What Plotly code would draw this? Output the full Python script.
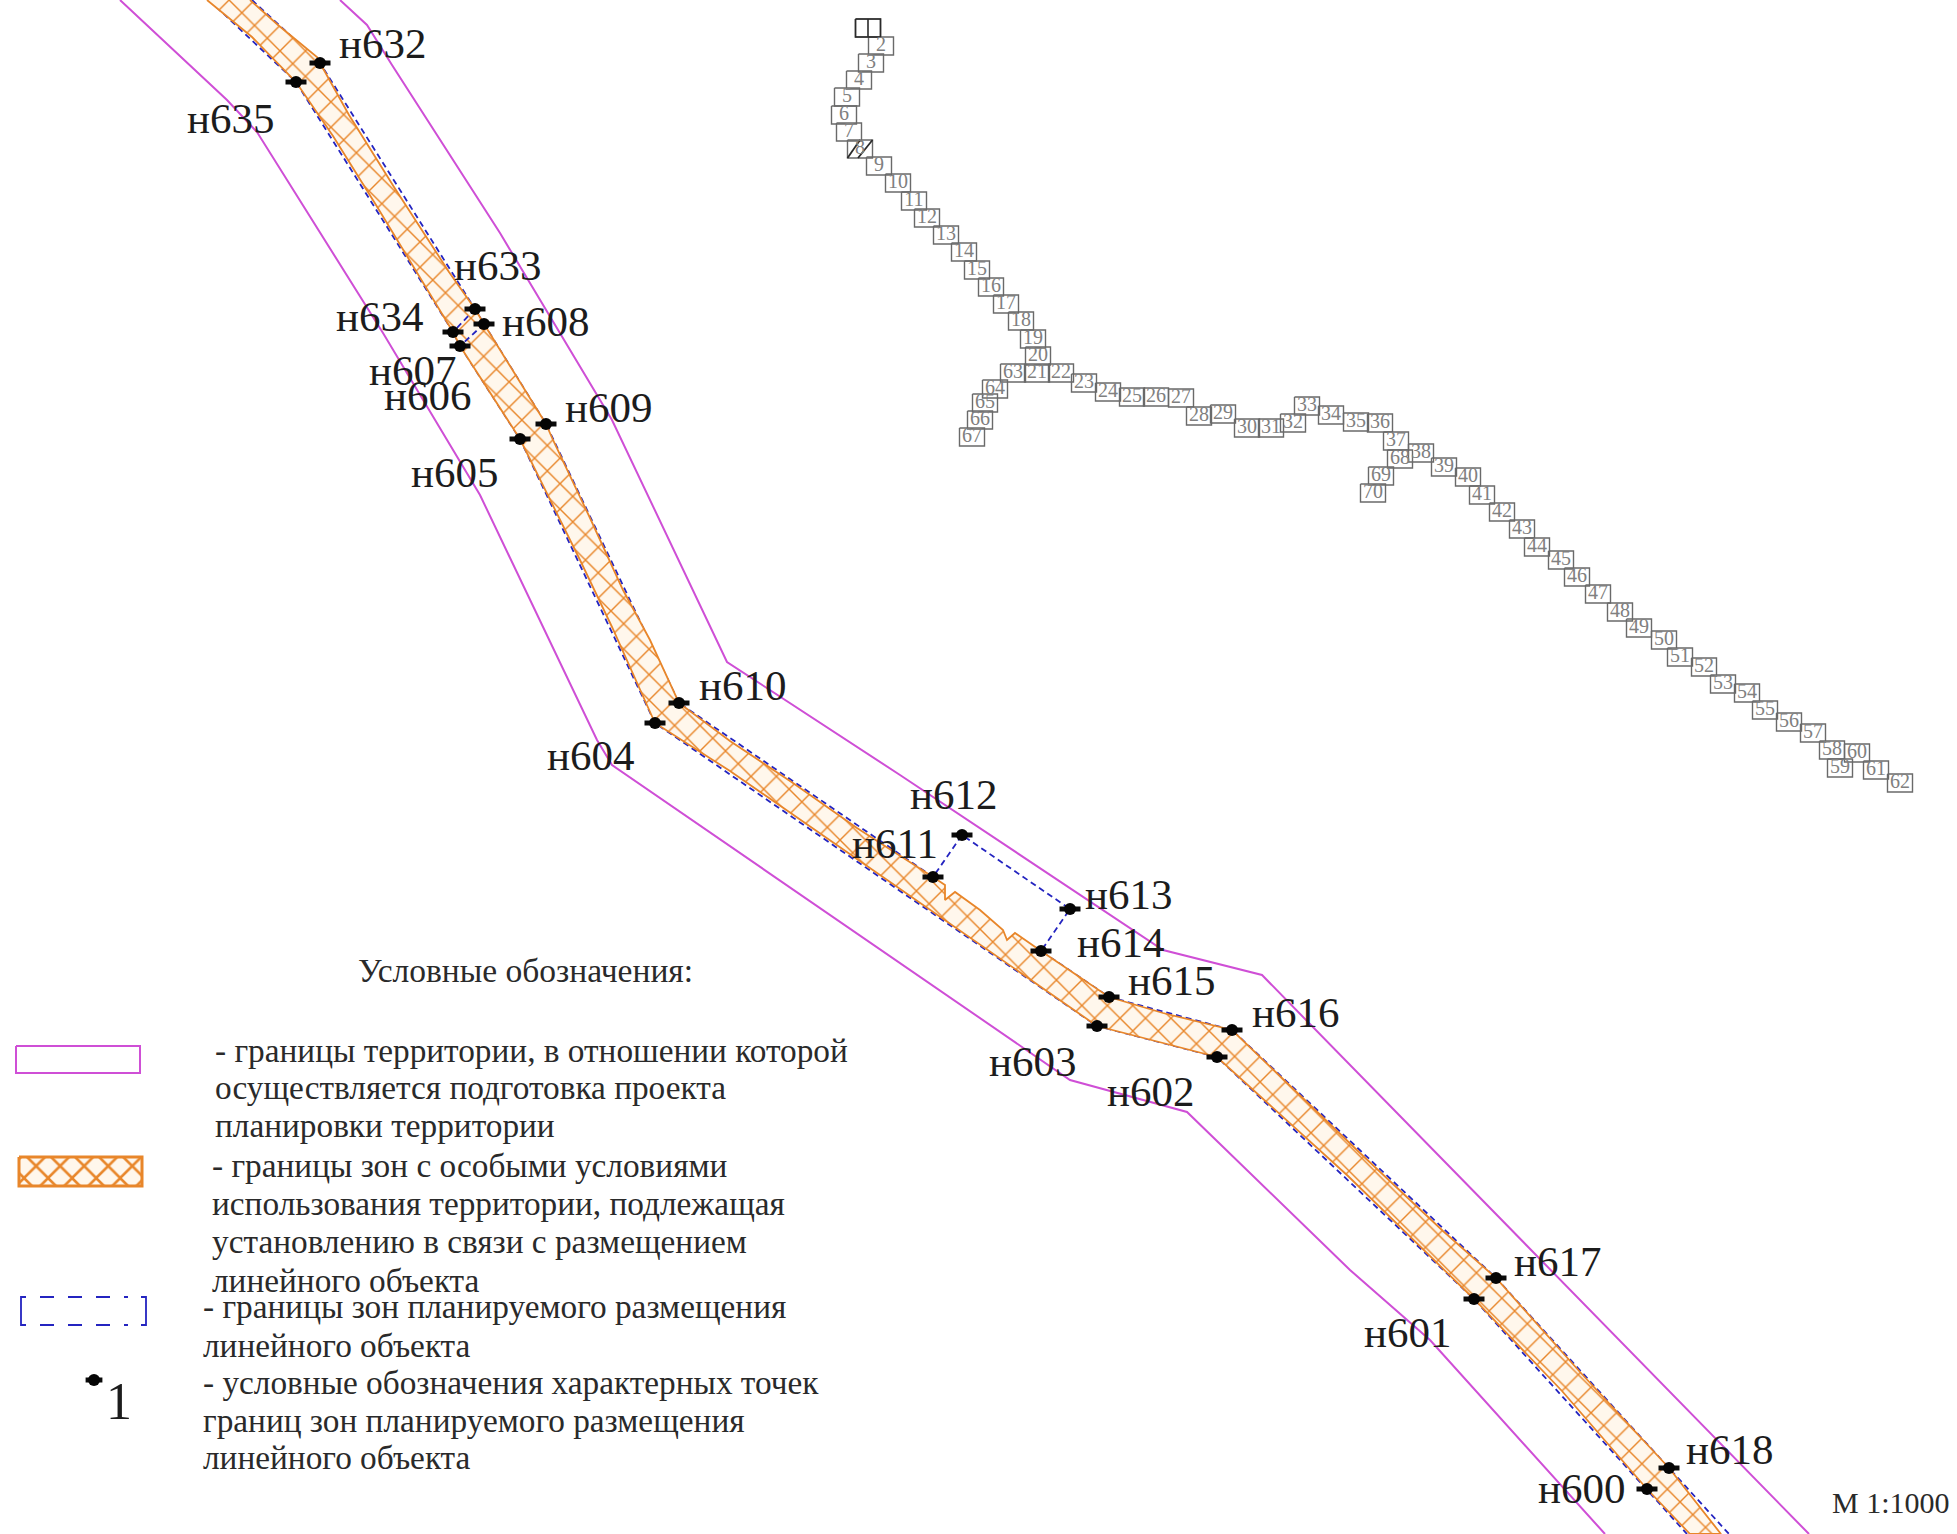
import plotly.graph_objects as go

# --- territory boundaries
left_bound_x = [120, 227, 257, 383, 480, 597, 612, 830, 1070, 1187, 1350, 1430, 1605]
left_bound_y = [0, 100, 132, 333, 495, 740, 765, 915, 1080, 1112, 1270, 1340, 1534]
right_bound_x = [340, 367, 392, 500, 612, 727, 900, 1163, 1262, 1809]
right_bound_y = [0, 25, 65, 233, 420, 662, 775, 950, 975, 1534]

# --- hatched zone outline
band_x = [250, 278, 317, 320, 349, 394, 449, 475, 484, 546, 553, 590, 623, 650, 679, 730, 793, 857, 933,
          945, 945, 955, 980, 1003, 1007, 1015, 1041, 1109, 1163, 1232, 1360, 1443, 1496, 1580, 1669, 1721,
          1690, 1647, 1562, 1474, 1348, 1217, 1163, 1097, 880, 730, 655, 612, 580, 520, 460, 453, 376, 333, 296, 252, 207]
band_y = [0, 25, 57, 63, 115, 187, 272, 309, 324, 424, 440, 518, 590, 640, 703, 741, 783, 828, 877,
          885, 900, 892, 910, 930, 940, 933, 951, 997, 1013, 1030, 1153, 1231, 1278, 1372, 1468, 1534,
          1534, 1489, 1391, 1299, 1176, 1057, 1043, 1026, 875, 771, 723, 627, 560, 439, 346, 332, 205, 136, 82, 37, 0]

# --- planned placement boundary (blue dashed)
plan_upper_x = [252, 320, 475, 484, 546, 679, 933, 962, 1070, 1041, 1109, 1232, 1496, 1669, 1729]
plan_upper_y = [0, 63, 309, 324, 424, 703, 877, 835, 909, 951, 997, 1030, 1278, 1468, 1534]
plan_lower_x = [209, 296, 453, 460, 520, 655, 1097, 1217, 1474, 1647, 1687]
plan_lower_y = [0, 82, 332, 346, 439, 723, 1026, 1057, 1299, 1489, 1534]
plan_cross_x = [475, 453, None, 484, 460]
plan_cross_y = [309, 332, None, 324, 346]

# --- characteristic points and their labels
point_x = [320, 296, 475, 453, 484, 460, 546, 520, 679, 655, 933, 962, 1070, 1041, 1109, 1232, 1097, 1217, 1496, 1474, 1669, 1647]
point_y = [63, 82, 309, 332, 324, 346, 424, 439, 703, 723, 877, 835, 909, 951, 997, 1030, 1026, 1057, 1278, 1299, 1468, 1489]
label_text = ["н632", "н635", "н633", "н634", "н608", "н607", "н606", "н609", "н605", "н610", "н604", "н612",
              "н611", "н613", "н614", "н615", "н616", "н603", "н602", "н617", "н601", "н618", "н600"]
label_x = [339, 187, 454, 336, 502, 369, 384, 565, 411, 699, 547, 910, 852, 1085, 1077, 1128, 1252, 989, 1107, 1514, 1364, 1686, 1538]
label_y = [47, 122, 269, 320, 325, 374, 399, 411, 476, 689, 759, 798, 847, 898, 946, 984, 1016, 1065, 1095, 1265, 1336, 1453, 1492]

# --- numbered boxes
box_num = list(range(1, 71))
box_x = [868, 881, 871, 859, 847, 844, 849, 860, 879, 898, 914, 927, 946, 964, 977, 991, 1006, 1021, 1033, 1038,
         1037, 1061, 1084, 1108, 1132, 1156, 1181, 1199, 1223, 1247, 1271, 1293, 1307, 1331, 1356, 1380, 1396, 1421, 1444, 1468,
         1482, 1502, 1522, 1537, 1561, 1577, 1598, 1620, 1639, 1664, 1680, 1704, 1723, 1747, 1765, 1789, 1813, 1832, 1840, 1857,
         1876, 1900, 1013, 995, 985, 980, 972, 1400, 1381, 1373]
box_y = [28, 46, 63, 80, 97, 115, 132, 149, 166, 183, 201, 218, 235, 252, 270, 287, 304, 321, 339, 356,
         373, 373, 383, 392, 397, 397, 398, 416, 414, 428, 428, 423, 406, 415, 422, 423, 441, 453, 467, 477,
         495, 512, 529, 547, 560, 577, 594, 612, 628, 640, 657, 667, 684, 693, 710, 722, 733, 750, 768, 753,
         770, 783, 373, 389, 403, 420, 437, 459, 476, 493]
box_w = 25
box_h = 18

# --- legend
legend_title = "Условные обозначения:"
legend_lines = ["- границы территории, в отношении которой", "осуществляется подготовка проекта", "планировки территории",
                "- границы зон с особыми условиями", "использования территории, подлежащая", "установлению в связи с размещением", "линейного объекта",
                "- границы зон планируемого размещения", "линейного объекта",
                "- условные обозначения характерных точек", "границ зон планируемого размещения", "линейного объекта"]
legend_x = [215, 215, 215, 212, 212, 212, 212, 203, 203, 203, 203, 203]
legend_y = [1054, 1091, 1129, 1169, 1207, 1245, 1284, 1310, 1349, 1386, 1424, 1461]
key_magenta_x = [16, 140, 140, 16, 16]
key_magenta_y = [1046, 1046, 1073, 1073, 1046]
key_hatch_x = [19, 142, 142, 19, 19]
key_hatch_y = [1157, 1157, 1186, 1186, 1157]
key_blue_side_x = [26, 21, 21, 26, None, 141, 146, 146, 141]
key_blue_side_y = [1297, 1297, 1325, 1325, None, 1297, 1297, 1325, 1325]
key_blue_dash_x = [40, 128, None, 40, 128]
key_blue_dash_y = [1297, 1297, None, 1325, 1325]
key_dot_x = [94]
key_dot_y = [1380]

MAGENTA = "#CF4FD6"
ORANGE = "#E8862A"
BLUE = "#2424C0"
SERIF = "Liberation Serif"
CREAM = "#FFF7EC"
HATCH = dict(shape="x", fgcolor=ORANGE, fgopacity=1, bgcolor=CREAM, size=18, solidity=0.15)
KEY_HATCH = dict(shape="x", fgcolor=ORANGE, fgopacity=1, bgcolor=CREAM, size=17, solidity=0.28)


def line(x, y, color, width, dash="solid"):
    return go.Scatter(x=x, y=y, mode="lines", line=dict(color=color, width=width, dash=dash), hoverinfo="skip")


def text(x, y, labels, size, pos, color="#1c1c1c"):
    return go.Scatter(x=x, y=y, mode="text", text=labels, textposition=pos, cliponaxis=False,
                      textfont=dict(family=SERIF, size=size, color=color), hoverinfo="skip")


def dots(x, y, whisker=15):
    return [go.Scatter(x=x, y=y, mode="markers", hoverinfo="skip",
                       marker=dict(symbol="line-ew", size=whisker, line=dict(color="#0a0a0a", width=5))),
            go.Scatter(x=x, y=y, mode="markers", hoverinfo="skip",
                       marker=dict(symbol="circle", size=12, color="#050505"))]


rect_x, rect_y = [], []
for cx, cy in zip(box_x, box_y):
    l, r, t, b = cx - box_w / 2, cx + box_w / 2, cy - box_h / 2, cy + box_h / 2
    rect_x += [l, r, r, l, l, None]
    rect_y += [t, t, b, b, t, None]

first_x = [box_x[0] - box_w / 2, box_x[0] + box_w / 2, box_x[0] + box_w / 2, box_x[0] - box_w / 2, box_x[0] - box_w / 2,
           None, box_x[0], box_x[0]]
first_y = [box_y[0] - box_h / 2, box_y[0] - box_h / 2, box_y[0] + box_h / 2, box_y[0] + box_h / 2, box_y[0] - box_h / 2,
           None, box_y[0] - box_h / 2, box_y[0] + box_h / 2]
eighth_x = [box_x[7] - box_w / 2, box_x[7], None, box_x[7] - 2, box_x[7] + box_w / 2]
eighth_y = [box_y[7] + box_h / 2, box_y[7] - box_h / 2, None, box_y[7] + box_h / 2, box_y[7] - box_h / 2]

fig = go.Figure()
fig.add_trace(line(left_bound_x, left_bound_y, MAGENTA, 2))
fig.add_trace(line(right_bound_x, right_bound_y, MAGENTA, 2))
fig.add_trace(line(plan_upper_x, plan_upper_y, BLUE, 1.8, "6px,4px"))
fig.add_trace(line(plan_lower_x, plan_lower_y, BLUE, 1.8, "6px,4px"))
fig.add_trace(go.Scatter(x=band_x, y=band_y, mode="lines", fill="toself", fillcolor=CREAM, fillpattern=HATCH,
                         line=dict(color=ORANGE, width=1.8), hoverinfo="skip"))
fig.add_trace(line(plan_cross_x, plan_cross_y, BLUE, 1.8, "6px,4px"))
fig.add_traces(dots(point_x, point_y))
fig.add_trace(text(label_x, label_y, label_text, 43, "middle right"))

fig.add_trace(line(rect_x, rect_y, "#6a6a6a", 1.4))
fig.add_trace(line(first_x, first_y, "#2a2a2a", 1.6))
fig.add_trace(line(eighth_x, eighth_y, "#2a2a2a", 1.8))
fig.add_trace(text(box_x[1:], box_y[1:], [str(n) for n in box_num[1:]], 20, "middle center", "#808080"))

fig.add_trace(text([358], [974], [legend_title], 33.5, "middle right", "#2a2a2a"))
fig.add_trace(text(legend_x, legend_y, legend_lines, 33.3, "middle right", "#2a2a2a"))
fig.add_trace(line(key_magenta_x, key_magenta_y, MAGENTA, 2))
fig.add_trace(go.Scatter(x=key_hatch_x, y=key_hatch_y, mode="lines", fill="toself", fillcolor=CREAM, fillpattern=KEY_HATCH,
                         line=dict(color=ORANGE, width=3), hoverinfo="skip"))
fig.add_trace(line(key_blue_side_x, key_blue_side_y, BLUE, 1.8))
fig.add_trace(line(key_blue_dash_x, key_blue_dash_y, BLUE, 1.8, "14px,14px"))
fig.add_traces(dots(key_dot_x, key_dot_y, 12))
fig.add_trace(text([106], [1406], ["1"], 52, "middle right"))
fig.add_trace(text([1832], [1505], ["М 1:1000"], 30, "middle right", "#2a2a2a"))

fig.update_layout(width=1957, height=1534, margin=dict(l=0, r=0, t=0, b=0), showlegend=False,
                  plot_bgcolor="white", paper_bgcolor="white",
                  xaxis=dict(range=[0, 1957], visible=False, fixedrange=True),
                  yaxis=dict(range=[1534, 0], visible=False, fixedrange=True))
fig.write_html("out.html", config={"displayModeBar": False},
               post_script="document.body.style.margin='0';document.documentElement.style.overflow='hidden';")
